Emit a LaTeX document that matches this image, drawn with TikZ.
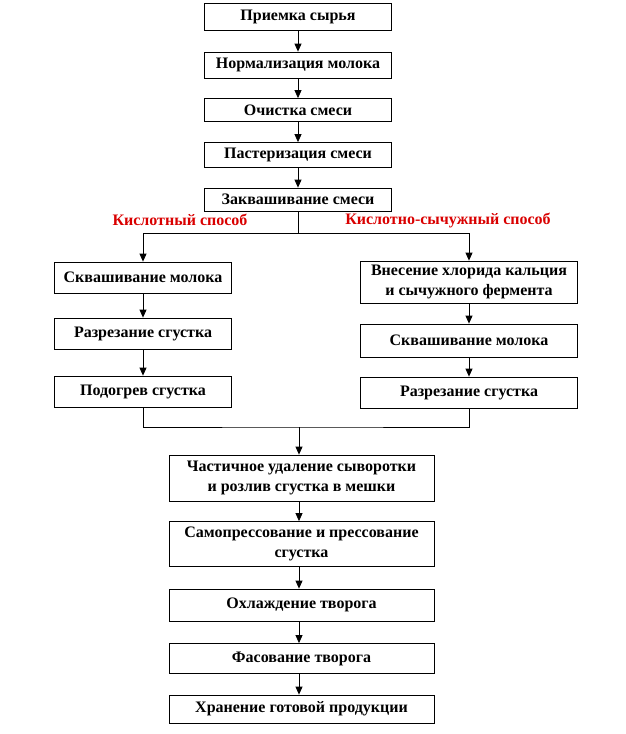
\documentclass[tikz,border=0pt]{standalone}
\usepackage{fontspec}
\setmainfont{Liberation Serif}
\usetikzlibrary{arrows, arrows.meta}
\usetikzlibrary{calc}

\begin{document}
\begin{tikzpicture}[x=1pt, y=-1pt,
    stage/.style={draw, line width=0.8pt, inner sep=1pt, align=center,
      font=\fontsize{16}{20}\selectfont\bfseries},
    flow/.style={line width=0.8pt, -{Triangle[length=8pt, width=7pt]}},
    link/.style={line width=0.8pt},
    method/.style={text=red!85!black, font=\fontsize{16}{20}\selectfont\bfseries}]
      \useasboundingbox (0,0) rectangle (626,734);

      % common stages
      \node[stage, minimum width=187pt, minimum height=27pt] (priem) at (298,17) {Приемка сырья};
      \node[stage, minimum width=187pt, minimum height=26pt] (norm) at (298,65) {Нормализация молока};
      \node[stage, minimum width=187pt, minimum height=23pt] (ochist) at (298,110) {Очистка смеси};
      \node[stage, minimum width=187pt, minimum height=25pt] (paster) at (298,155) {Пастеризация смеси};
      \node[stage, minimum width=187pt, minimum height=23pt] (zakv) at (298,199.5) {Заквашивание смеси};

      \node[method] (kisl) at (180,220) {Кислотный способ};
      \node[method] (sych) at (448,220) {Кислотно-сычужный способ};

      % left branch
      \node[stage, minimum width=177pt, minimum height=31pt] (lskv) at (143,277.5) {Сквашивание молока};
      \node[stage, minimum width=177pt, minimum height=31pt] (lraz) at (143,333.5) {Разрезание сгустка};
      \node[stage, minimum width=177pt, minimum height=31pt] (lpod) at (143,391.5) {Подогрев сгустка};

      % right branch
      \node[stage, minimum width=217pt, minimum height=42pt] (rvnes) at (469,282) {Внесение хлорида кальция\\и сычужного фермента};
      \node[stage, minimum width=217pt, minimum height=33pt] (rskv) at (469,340.5) {Сквашивание молока};
      \node[stage, minimum width=217pt, minimum height=31pt] (rraz) at (469,392.5) {Разрезание сгустка};

      % final stages
      \node[stage, minimum width=265pt, minimum height=46pt] (udal) at (301.5,478) {Частичное удаление сыворотки\\и розлив сгустка в мешки};
      \node[stage, minimum width=265pt, minimum height=45pt] (press) at (301.5,544) {Самопрессование и прессование\\сгустка};
      \node[stage, minimum width=265pt, minimum height=32pt] (ohl) at (301.5,605) {Охлаждение творога};
      \node[stage, minimum width=265pt, minimum height=30pt] (fas) at (301.5,658.5) {Фасование творога};
      \node[stage, minimum width=265pt, minimum height=28pt] (hran) at (301.5,709) {Хранение готовой продукции};

      \coordinate (split) at (298,233);
      \coordinate (join) at (299,427);

      \draw[flow] (priem) -- (norm);
      \draw[flow] (norm) -- (ochist);
      \draw[flow] (ochist) -- (paster);
      \draw[flow] (paster) -- (zakv);
      \draw[link] (zakv) -- (split);
      \draw[flow] (split) -| (lskv.north);
      \draw[flow] (split) -| (rvnes.north);

      \draw[flow] (lskv) -- (lraz);
      \draw[flow] (lraz) -- (lpod);
      \draw[flow] (rvnes) -- (rskv);
      \draw[flow] (rskv) -- (rraz);

      \draw[link] (lpod.south) |- (join) -| (rraz.south);
      \draw[flow] (join) -- (join |- udal.north);
      \draw[flow] (udal.south -| join) -- (press.north -| join);
      \draw[flow] (press.south -| join) -- (ohl.north -| join);
      \draw[flow] (ohl.south -| join) -- (fas.north -| join);
      \draw[flow] (fas.south -| join) -- (hran.north -| join);
\end{tikzpicture}
\end{document}
